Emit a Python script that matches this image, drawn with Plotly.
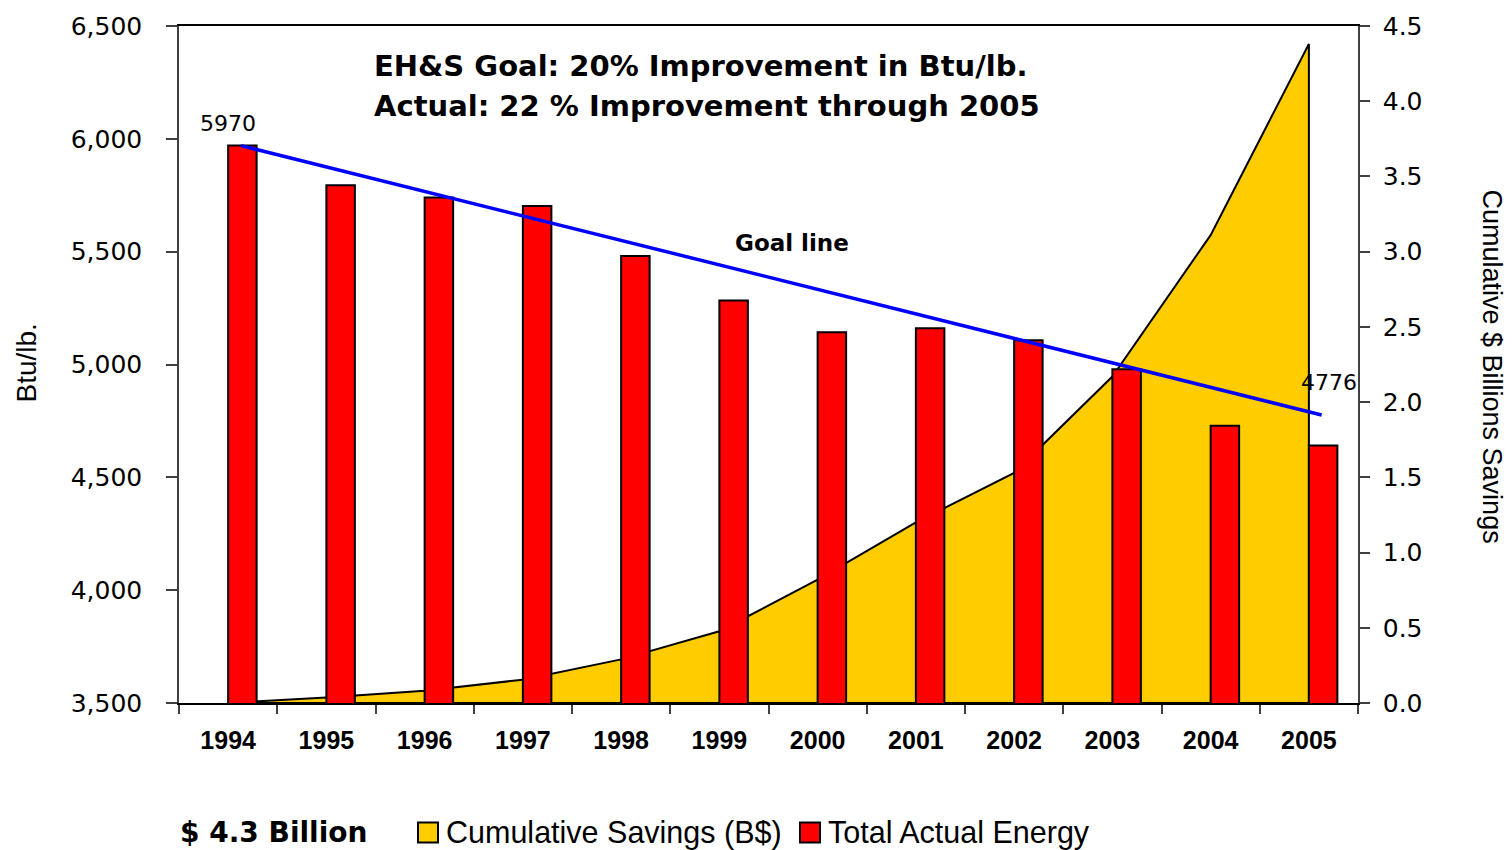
import plotly.graph_objects as go

# ---- data ----
years = ["1994", "1995", "1996", "1997", "1998", "1999", "2000", "2001", "2002", "2003", "2004", "2005"]
energy_btu_lb = [5970, 5794, 5740, 5702, 5481, 5284, 5143, 5161, 5107, 4979, 4729, 4641]
cum_savings_b = [0.0, 0.037, 0.082, 0.155, 0.29, 0.477, 0.82, 1.20, 1.53, 2.17, 3.11, 4.38]
goal_values = [5970, 4776]
goal_years = ["1994", "2005"]

left_ticks = [3500, 4000, 4500, 5000, 5500, 6000, 6500]
right_ticks = [0.0, 0.5, 1.0, 1.5, 2.0, 2.5, 3.0, 3.5, 4.0, 4.5]

# ---- layout geometry (pixels) ----
W, H = 1512, 850
L, R, T, B = 179, 1358, 23, 703


def px(x):
    return (x - L) / (R - L)


def py(y):
    return (B - y) / (B - T)


idx = list(range(len(years)))
bar_w = 0.29
goal_off = 0.13
goal_x = [years.index(g) + goal_off for g in goal_years]

fig = go.Figure()

# cumulative savings area (right axis) -- closed polygon down to zero at the last year
fig.add_trace(go.Scatter(
    x=idx + [idx[-1], idx[0]],
    y=cum_savings_b + [0, 0],
    fill="toself", fillcolor="#FFCC00",
    mode="lines", line=dict(color="black", width=2),
    yaxis="y", xaxis="x", showlegend=False, hoverinfo="skip",
))

# bars (left axis, overlaying so drawn on top of area)
fig.add_trace(go.Bar(
    x=idx, y=energy_btu_lb, width=bar_w, offset=0,
    marker=dict(color="#FF0000", line=dict(color="black", width=2)),
    yaxis="y2", xaxis="x", showlegend=False,
))

# goal line
fig.add_trace(go.Scatter(
    x=goal_x, y=goal_values, mode="lines",
    line=dict(color="#0000FF", width=3.5),
    yaxis="y2", xaxis="x", showlegend=False,
))

ann = []
# goal end labels
ann.append(dict(x=goal_x[0], y=goal_values[0], xref="x", yref="y2", text=str(goal_values[0]),
                showarrow=False, xshift=-13, yshift=22,
                font=dict(family="DejaVu Sans", size=22, color="black")))
ann.append(dict(x=goal_x[1], y=goal_values[1], xref="x", yref="y2", text=str(goal_values[1]),
                showarrow=False, xshift=7, yshift=33,
                font=dict(family="DejaVu Sans", size=22, color="black")))

# title lines
ann.append(dict(x=px(372), y=py(63), xref="paper", yref="paper", xanchor="left", yanchor="middle",
                text="<b>EH&S Goal: 20% Improvement in Btu/lb.</b>", showarrow=False,
                font=dict(family="DejaVu Sans", size=29, color="black")))
ann.append(dict(x=px(372), y=py(103), xref="paper", yref="paper", xanchor="left", yanchor="middle",
                text="<b>Actual: 22 % Improvement through 2005</b>", showarrow=False,
                font=dict(family="DejaVu Sans", size=29, color="black")))
ann.append(dict(x=px(792), y=py(241), xref="paper", yref="paper", xanchor="center", yanchor="middle",
                text="<b>Goal line</b>", showarrow=False,
                font=dict(family="DejaVu Sans", size=23, color="black")))

# axis titles
ann.append(dict(x=px(27), y=py(362), xref="paper", yref="paper", xanchor="center", yanchor="middle",
                text="Btu/lb.", textangle=-90, showarrow=False,
                font=dict(family="Liberation Sans", size=28, color="black")))
ann.append(dict(x=px(1492), y=py(365), xref="paper", yref="paper", xanchor="center", yanchor="middle",
                text="Cumulative $ Billions Savings", textangle=90, showarrow=False,
                font=dict(family="Liberation Sans", size=27, color="black")))

# bottom legend
ann.append(dict(x=px(178), y=py(833), xref="paper", yref="paper", xanchor="left", yanchor="middle",
                text="<b>$ 4.3 Billion</b>", showarrow=False,
                font=dict(family="DejaVu Sans", size=28, color="black")))
ann.append(dict(x=px(444), y=py(833), xref="paper", yref="paper", xanchor="left", yanchor="middle",
                text="Cumulative Savings (B$)", showarrow=False,
                font=dict(family="Liberation Sans", size=30.5, color="black")))
ann.append(dict(x=px(826), y=py(833), xref="paper", yref="paper", xanchor="left", yanchor="middle",
                text="Total Actual Energy", showarrow=False,
                font=dict(family="Liberation Sans", size=30.5, color="black")))

shapes = [
    dict(type="rect", xref="paper", yref="paper", x0=px(418), x1=px(438), y0=py(843), y1=py(823),
         fillcolor="#FFCC00", line=dict(color="black", width=2)),
    dict(type="rect", xref="paper", yref="paper", x0=px(800), x1=px(820), y0=py(843), y1=py(823),
         fillcolor="#FF0000", line=dict(color="black", width=2)),
]

fig.update_layout(
    width=W, height=H,
    margin=dict(l=L, r=W - R, t=T, b=H - B),
    paper_bgcolor="white", plot_bgcolor="white",
    showlegend=False,
    xaxis=dict(
        range=[-0.5, len(years) - 0.5],
        tickmode="array", tickvals=idx, ticktext=years,
        ticks="", ticklabelstandoff=14,
        tickfont=dict(family="Liberation Sans", size=25, color="black", weight="bold"),
        showline=True, linecolor="black", linewidth=1.5, mirror=True,
        showgrid=False, zeroline=False,
        minor=dict(tickmode="array", tickvals=[i - 0.5 for i in range(len(years) + 1)],
                   ticks="outside", ticklen=9, tickcolor="#404040", tickwidth=1.5, showgrid=False),
    ),
    yaxis=dict(
        side="right", range=[0, 4.5],
        tickmode="array", tickvals=right_ticks, ticktext=[f"{v:.1f}" for v in right_ticks],
        ticks="outside", ticklen=10, tickcolor="#404040", tickwidth=1.5, ticklabelstandoff=8,
        tickfont=dict(family="DejaVu Sans", size=25, color="black"),
        showline=True, linecolor="#404040", linewidth=1.5,
        showgrid=False, zeroline=False,
    ),
    yaxis2=dict(
        overlaying="y", side="left", anchor="x", range=[3500, 6500],
        tickmode="array", tickvals=left_ticks, ticktext=[f"{v:,}" for v in left_ticks],
        ticks="outside", ticklen=11, tickcolor="#404040", tickwidth=1.5, ticklabelstandoff=19,
        tickfont=dict(family="DejaVu Sans", size=25, color="black"),
        showline=True, linecolor="#404040", linewidth=1.5,
        showgrid=False, zeroline=False,
    ),
    annotations=ann,
    shapes=shapes,
)

fig.write_html("out.html", config={"displayModeBar": False},
               post_script="document.body.style.margin='0';document.body.style.overflow='hidden';")
